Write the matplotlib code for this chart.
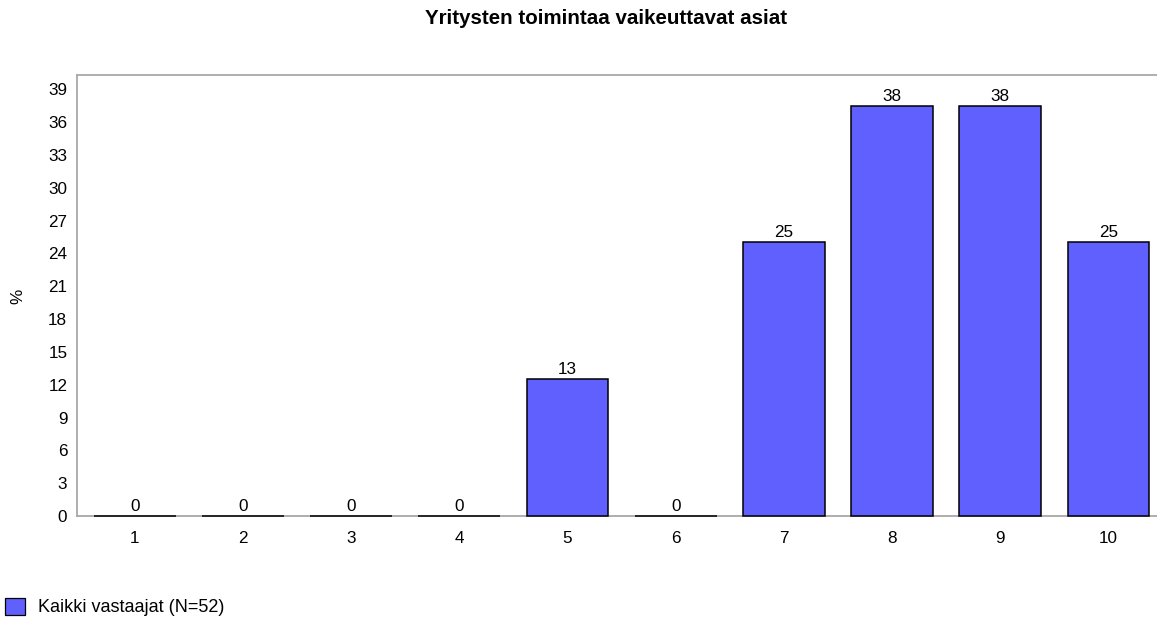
import matplotlib
matplotlib.use("Agg")
import matplotlib.pyplot as plt
from matplotlib.patches import Patch

plt.rcParams['font.family'] = ['Liberation Sans', 'DejaVu Sans']

categories = ['1', '2', '3', '4', '5', '6', '7', '8', '9', '10']
values = [0, 0, 0, 0, 12.5, 0, 25, 37.5, 37.5, 25]
yticks = list(range(0, 40, 3))
title = 'Yritysten toimintaa vaikeuttavat asiat'
ylabel = '%'
legend_label = 'Kaikki vastaajat (N=52)'

W, H = 1157, 622
fig = plt.figure(figsize=(W / 100, H / 100), dpi=100)
ax = fig.add_axes([77 / W, (H - 516) / H, (W - 77) / W, (516 - 75) / H])

x = list(range(1, len(categories) + 1))
bars = ax.bar(x, values, width=0.755, color='#6060FF', edgecolor='black', linewidth=1.1, zorder=4)
for b in bars:
    b.set_clip_on(False)

for xi, v in zip(x, values):
    ax.annotate(str(int(v + 0.5)), (xi, v), xytext=(0, 1.5), textcoords='offset points',
                ha='center', va='bottom', fontsize=12.3, color='black')

ax.set_xlim(0.467, 10.448)
ax.set_ylim(0, 40.3)
ax.set_xticks(x)
ax.set_xticklabels(categories)
ax.set_yticks(yticks)
ax.tick_params(axis='both', length=0, labelsize=12.3, colors='black')
ax.tick_params(axis='y', pad=7)
ax.tick_params(axis='x', pad=11)

for s in ['left', 'bottom', 'top']:
    ax.spines[s].set_color('#a8a8a8')
    ax.spines[s].set_linewidth(1.3)
    ax.spines[s].set_zorder(2)
ax.spines['right'].set_visible(False)

fig.text(18 / W, 1 - 296 / H, ylabel, rotation=90, ha='center', va='center', fontsize=12.3)
fig.text(606 / W, 1 - 19 / H, title, ha='center', va='center', fontsize=14.8, fontweight='bold')

handle = Patch(facecolor='#6060FF', edgecolor='black', linewidth=0.9)
fig.legend([handle], [legend_label], loc='center left', bbox_to_anchor=(5 / W, 1 - 607 / H),
           frameon=False, fontsize=13, handlelength=1.1, handleheight=1.1, handletextpad=0.75,
           borderaxespad=0, borderpad=0)

fig.savefig('out.png', dpi=100)
